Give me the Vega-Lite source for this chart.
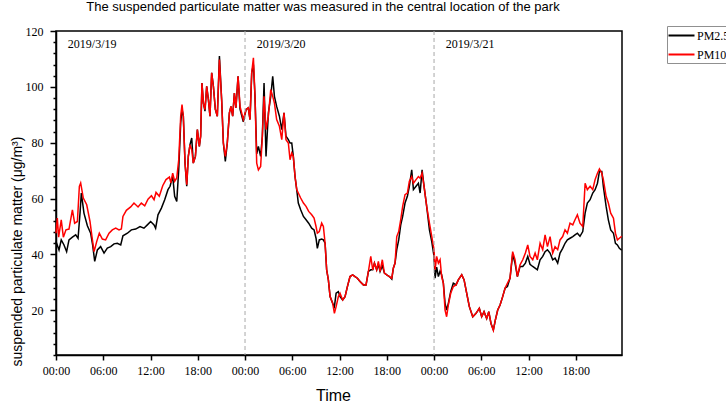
{
  "$schema": "https://vega.github.io/schema/vega-lite/v6.json",
  "autosize": {"type": "none"},
  "padding": {"left": 56, "top": 31, "right": 104, "bottom": 48},
  "width": 566,
  "height": 324,
  "background": "white",
  "title": {
    "text": "The suspended particulate matter was measured in the central location of the park",
    "font": "Liberation Sans",
    "fontSize": 13,
    "fontWeight": "normal",
    "color": "#000",
    "offset": 11,
    "dx": -16
  },
  "config": {
    "view": {"stroke": "#000", "strokeWidth": 1.5},
    "axis": {
      "grid": false,
      "ticks": true,
      "tickColor": "#000",
      "tickWidth": 1.5,
      "labelOverlap": false,
      "labelFlush": false
    }
  },
  "datasets": {
    "pm25": [
      {"t": "2019-03-19T00:00", "v": 44.6}, {"t": "2019-03-19T00:23", "v": 41.6}, {"t": "2019-03-19T00:40", "v": 45.2},
      {"t": "2019-03-19T01:01", "v": 43.4}, {"t": "2019-03-19T01:21", "v": 41.0}, {"t": "2019-03-19T01:39", "v": 45.2},
      {"t": "2019-03-19T02:05", "v": 46.2}, {"t": "2019-03-19T02:30", "v": 47.0}, {"t": "2019-03-19T02:48", "v": 45.8},
      {"t": "2019-03-19T03:03", "v": 54.8}, {"t": "2019-03-19T03:13", "v": 62.0}, {"t": "2019-03-19T03:33", "v": 54.8},
      {"t": "2019-03-19T03:59", "v": 50.3}, {"t": "2019-03-19T04:24", "v": 47.6}, {"t": "2019-03-19T04:39", "v": 43.4},
      {"t": "2019-03-19T04:55", "v": 37.5}, {"t": "2019-03-19T05:15", "v": 41.6}, {"t": "2019-03-19T05:40", "v": 42.8},
      {"t": "2019-03-19T06:06", "v": 40.5}, {"t": "2019-03-19T06:31", "v": 42.3}, {"t": "2019-03-19T06:57", "v": 42.8},
      {"t": "2019-03-19T07:22", "v": 43.8}, {"t": "2019-03-19T07:47", "v": 44.0}, {"t": "2019-03-19T08:13", "v": 43.4},
      {"t": "2019-03-19T08:30", "v": 46.7}, {"t": "2019-03-19T09:04", "v": 47.6}, {"t": "2019-03-19T09:34", "v": 48.8},
      {"t": "2019-03-19T10:07", "v": 49.1}, {"t": "2019-03-19T10:40", "v": 50.0}, {"t": "2019-03-19T11:10", "v": 49.4},
      {"t": "2019-03-19T11:36", "v": 50.6}, {"t": "2019-03-19T12:01", "v": 51.8}, {"t": "2019-03-19T12:27", "v": 50.6},
      {"t": "2019-03-19T12:39", "v": 49.4}, {"t": "2019-03-19T12:57", "v": 54.2}, {"t": "2019-03-19T13:23", "v": 56.6},
      {"t": "2019-03-19T13:48", "v": 59.6}, {"t": "2019-03-19T14:13", "v": 63.2}, {"t": "2019-03-19T14:29", "v": 64.4},
      {"t": "2019-03-19T14:49", "v": 68.0}, {"t": "2019-03-19T15:04", "v": 60.8}, {"t": "2019-03-19T15:20", "v": 59.0},
      {"t": "2019-03-19T15:35", "v": 70.3}, {"t": "2019-03-19T15:50", "v": 87.1}, {"t": "2019-03-19T16:00", "v": 91.9},
      {"t": "2019-03-19T16:10", "v": 89.5}, {"t": "2019-03-19T16:23", "v": 72.7}, {"t": "2019-03-19T16:36", "v": 64.4},
      {"t": "2019-03-19T16:48", "v": 75.1}, {"t": "2019-03-19T17:01", "v": 79.3}, {"t": "2019-03-19T17:14", "v": 81.7},
      {"t": "2019-03-19T17:26", "v": 72.7}, {"t": "2019-03-19T17:42", "v": 75.1}, {"t": "2019-03-19T17:57", "v": 84.7},
      {"t": "2019-03-19T18:12", "v": 78.7}, {"t": "2019-03-19T18:22", "v": 82.3}, {"t": "2019-03-19T18:32", "v": 101.4},
      {"t": "2019-03-19T18:43", "v": 94.2}, {"t": "2019-03-19T18:55", "v": 91.3}, {"t": "2019-03-19T19:08", "v": 100.2},
      {"t": "2019-03-19T19:21", "v": 95.4}, {"t": "2019-03-19T19:33", "v": 89.5}, {"t": "2019-03-19T19:46", "v": 105.0},
      {"t": "2019-03-19T19:59", "v": 100.2}, {"t": "2019-03-19T20:14", "v": 91.9}, {"t": "2019-03-19T20:29", "v": 89.5},
      {"t": "2019-03-19T20:45", "v": 111.0}, {"t": "2019-03-19T21:02", "v": 95.4}, {"t": "2019-03-19T21:15", "v": 79.9},
      {"t": "2019-03-19T21:30", "v": 73.3}, {"t": "2019-03-19T21:45", "v": 79.9}, {"t": "2019-03-19T22:01", "v": 90.7},
      {"t": "2019-03-19T22:13", "v": 93.0}, {"t": "2019-03-19T22:26", "v": 89.5}, {"t": "2019-03-19T22:39", "v": 97.8},
      {"t": "2019-03-19T22:51", "v": 92.5}, {"t": "2019-03-19T23:07", "v": 103.8}, {"t": "2019-03-19T23:22", "v": 92.0},
      {"t": "2019-03-19T23:47", "v": 87.5},
      {"t": "2019-03-20T00:08", "v": 91.9}, {"t": "2019-03-20T00:25", "v": 92.5}, {"t": "2019-03-20T00:38", "v": 88.3},
      {"t": "2019-03-20T00:51", "v": 105.0}, {"t": "2019-03-20T01:04", "v": 108.0}, {"t": "2019-03-20T01:16", "v": 96.6},
      {"t": "2019-03-20T01:29", "v": 76.0}, {"t": "2019-03-20T01:42", "v": 78.7}, {"t": "2019-03-20T01:59", "v": 75.1},
      {"t": "2019-03-20T02:12", "v": 82.3}, {"t": "2019-03-20T02:25", "v": 101.4}, {"t": "2019-03-20T02:40", "v": 75.1},
      {"t": "2019-03-20T02:58", "v": 90.7}, {"t": "2019-03-20T03:16", "v": 96.6}, {"t": "2019-03-20T03:31", "v": 103.8},
      {"t": "2019-03-20T03:44", "v": 96.6}, {"t": "2019-03-20T04:01", "v": 93.0}, {"t": "2019-03-20T04:22", "v": 89.5},
      {"t": "2019-03-20T04:40", "v": 84.7}, {"t": "2019-03-20T04:57", "v": 90.7}, {"t": "2019-03-20T05:12", "v": 82.3},
      {"t": "2019-03-20T05:30", "v": 81.1}, {"t": "2019-03-20T05:43", "v": 79.9}, {"t": "2019-03-20T05:56", "v": 79.9},
      {"t": "2019-03-20T06:08", "v": 75.1}, {"t": "2019-03-20T06:21", "v": 67.9}, {"t": "2019-03-20T06:34", "v": 63.2},
      {"t": "2019-03-20T06:46", "v": 58.4}, {"t": "2019-03-20T07:04", "v": 56.0}, {"t": "2019-03-20T07:25", "v": 53.6},
      {"t": "2019-03-20T07:45", "v": 52.4}, {"t": "2019-03-20T08:05", "v": 51.2}, {"t": "2019-03-20T08:28", "v": 49.4},
      {"t": "2019-03-20T08:46", "v": 48.8}, {"t": "2019-03-20T09:01", "v": 45.8}, {"t": "2019-03-20T09:11", "v": 42.2},
      {"t": "2019-03-20T09:26", "v": 45.2}, {"t": "2019-03-20T09:44", "v": 45.5}, {"t": "2019-03-20T09:57", "v": 45.2},
      {"t": "2019-03-20T10:10", "v": 44.0}, {"t": "2019-03-20T10:22", "v": 34.5}, {"t": "2019-03-20T10:35", "v": 30.9},
      {"t": "2019-03-20T10:48", "v": 24.9}, {"t": "2019-03-20T11:08", "v": 22.5}, {"t": "2019-03-20T11:21", "v": 21.3},
      {"t": "2019-03-20T11:34", "v": 26.1}, {"t": "2019-03-20T11:51", "v": 26.7}, {"t": "2019-03-20T12:04", "v": 24.9},
      {"t": "2019-03-20T12:24", "v": 23.7}, {"t": "2019-03-20T12:42", "v": 24.9}, {"t": "2019-03-20T13:00", "v": 28.5},
      {"t": "2019-03-20T13:20", "v": 32.1}, {"t": "2019-03-20T13:40", "v": 32.7}, {"t": "2019-03-20T13:58", "v": 32.1},
      {"t": "2019-03-20T14:16", "v": 31.5}, {"t": "2019-03-20T14:36", "v": 30.3}, {"t": "2019-03-20T15:02", "v": 29.1},
      {"t": "2019-03-20T15:22", "v": 29.1}, {"t": "2019-03-20T15:40", "v": 33.9}, {"t": "2019-03-20T15:58", "v": 34.5},
      {"t": "2019-03-20T16:13", "v": 34.5}, {"t": "2019-03-20T16:26", "v": 36.9}, {"t": "2019-03-20T16:43", "v": 34.5},
      {"t": "2019-03-20T16:56", "v": 36.5}, {"t": "2019-03-20T17:09", "v": 33.9}, {"t": "2019-03-20T17:26", "v": 36.0},
      {"t": "2019-03-20T17:42", "v": 33.3}, {"t": "2019-03-20T18:00", "v": 32.7}, {"t": "2019-03-20T18:20", "v": 32.1},
      {"t": "2019-03-20T18:38", "v": 31.2}, {"t": "2019-03-20T18:50", "v": 35.1}, {"t": "2019-03-20T19:03", "v": 36.9},
      {"t": "2019-03-20T19:16", "v": 41.7}, {"t": "2019-03-20T19:31", "v": 45.2}, {"t": "2019-03-20T19:46", "v": 50.5},
      {"t": "2019-03-20T20:01", "v": 53.6}, {"t": "2019-03-20T20:19", "v": 58.4}, {"t": "2019-03-20T20:37", "v": 60.8},
      {"t": "2019-03-20T20:52", "v": 64.4}, {"t": "2019-03-20T21:10", "v": 70.3}, {"t": "2019-03-20T21:23", "v": 63.2},
      {"t": "2019-03-20T21:43", "v": 64.4}, {"t": "2019-03-20T22:01", "v": 65.5}, {"t": "2019-03-20T22:14", "v": 62.0},
      {"t": "2019-03-20T22:29", "v": 70.3}, {"t": "2019-03-20T22:44", "v": 64.4}, {"t": "2019-03-20T23:04", "v": 57.2},
      {"t": "2019-03-20T23:25", "v": 48.8}, {"t": "2019-03-20T23:43", "v": 44.5},
      {"t": "2019-03-21T00:00", "v": 39.3}, {"t": "2019-03-21T00:08", "v": 31.5}, {"t": "2019-03-21T00:20", "v": 35.5},
      {"t": "2019-03-21T00:33", "v": 32.1}, {"t": "2019-03-21T00:46", "v": 34.0}, {"t": "2019-03-21T00:58", "v": 32.7},
      {"t": "2019-03-21T01:11", "v": 29.7}, {"t": "2019-03-21T01:24", "v": 22.5}, {"t": "2019-03-21T01:36", "v": 20.1},
      {"t": "2019-03-21T01:49", "v": 22.5}, {"t": "2019-03-21T02:07", "v": 26.7}, {"t": "2019-03-21T02:27", "v": 29.7},
      {"t": "2019-03-21T02:48", "v": 29.1}, {"t": "2019-03-21T03:05", "v": 30.9}, {"t": "2019-03-21T03:31", "v": 32.7},
      {"t": "2019-03-21T03:49", "v": 30.9}, {"t": "2019-03-21T04:09", "v": 26.1}, {"t": "2019-03-21T04:29", "v": 21.3},
      {"t": "2019-03-21T04:55", "v": 17.7}, {"t": "2019-03-21T05:20", "v": 18.9}, {"t": "2019-03-21T05:45", "v": 20.7},
      {"t": "2019-03-21T06:03", "v": 17.7}, {"t": "2019-03-21T06:21", "v": 19.5}, {"t": "2019-03-21T06:41", "v": 17.1},
      {"t": "2019-03-21T06:57", "v": 19.5}, {"t": "2019-03-21T07:14", "v": 15.3}, {"t": "2019-03-21T07:32", "v": 13.0},
      {"t": "2019-03-21T07:47", "v": 16.5}, {"t": "2019-03-21T08:05", "v": 20.1}, {"t": "2019-03-21T08:23", "v": 21.9},
      {"t": "2019-03-21T08:43", "v": 24.9}, {"t": "2019-03-21T09:01", "v": 27.9}, {"t": "2019-03-21T09:19", "v": 28.5},
      {"t": "2019-03-21T09:39", "v": 31.5}, {"t": "2019-03-21T09:59", "v": 40.0}, {"t": "2019-03-21T10:17", "v": 36.9},
      {"t": "2019-03-21T10:35", "v": 32.1}, {"t": "2019-03-21T10:55", "v": 35.7}, {"t": "2019-03-21T11:16", "v": 35.7},
      {"t": "2019-03-21T11:36", "v": 36.9}, {"t": "2019-03-21T11:54", "v": 39.3}, {"t": "2019-03-21T12:11", "v": 36.5},
      {"t": "2019-03-21T12:32", "v": 35.7}, {"t": "2019-03-21T12:50", "v": 35.1}, {"t": "2019-03-21T13:07", "v": 34.5},
      {"t": "2019-03-21T13:28", "v": 38.1}, {"t": "2019-03-21T13:48", "v": 39.3}, {"t": "2019-03-21T14:06", "v": 41.0},
      {"t": "2019-03-21T14:24", "v": 41.7}, {"t": "2019-03-21T14:44", "v": 40.5}, {"t": "2019-03-21T15:04", "v": 38.1},
      {"t": "2019-03-21T15:22", "v": 38.7}, {"t": "2019-03-21T15:42", "v": 36.9}, {"t": "2019-03-21T16:00", "v": 40.5},
      {"t": "2019-03-21T16:20", "v": 42.2}, {"t": "2019-03-21T16:38", "v": 44.0}, {"t": "2019-03-21T16:56", "v": 45.2},
      {"t": "2019-03-21T17:16", "v": 45.8}, {"t": "2019-03-21T17:37", "v": 46.4}, {"t": "2019-03-21T17:54", "v": 47.0},
      {"t": "2019-03-21T18:12", "v": 47.6}, {"t": "2019-03-21T18:32", "v": 46.5}, {"t": "2019-03-21T18:53", "v": 48.2},
      {"t": "2019-03-21T19:11", "v": 54.8}, {"t": "2019-03-21T19:28", "v": 58.4}, {"t": "2019-03-21T19:49", "v": 59.6},
      {"t": "2019-03-21T20:09", "v": 62.0}, {"t": "2019-03-21T20:27", "v": 63.2}, {"t": "2019-03-21T20:45", "v": 65.5},
      {"t": "2019-03-21T21:00", "v": 69.7}, {"t": "2019-03-21T21:18", "v": 69.7}, {"t": "2019-03-21T21:30", "v": 64.4},
      {"t": "2019-03-21T21:51", "v": 57.2}, {"t": "2019-03-21T22:08", "v": 52.4}, {"t": "2019-03-21T22:26", "v": 48.8},
      {"t": "2019-03-21T22:47", "v": 47.6}, {"t": "2019-03-21T23:02", "v": 44.0}, {"t": "2019-03-21T23:17", "v": 43.4},
      {"t": "2019-03-21T23:32", "v": 42.2}, {"t": "2019-03-21T23:50", "v": 41.5}
    ],
    "pm10": [
      {"t": "2019-03-19T00:00", "v": 47.6}, {"t": "2019-03-19T00:10", "v": 53.0}, {"t": "2019-03-19T00:20", "v": 46.2},
      {"t": "2019-03-19T00:40", "v": 52.4}, {"t": "2019-03-19T00:56", "v": 46.2}, {"t": "2019-03-19T01:16", "v": 48.8},
      {"t": "2019-03-19T01:39", "v": 49.1}, {"t": "2019-03-19T02:05", "v": 56.0}, {"t": "2019-03-19T02:22", "v": 51.2},
      {"t": "2019-03-19T02:43", "v": 51.8}, {"t": "2019-03-19T02:58", "v": 64.4}, {"t": "2019-03-19T03:08", "v": 65.6},
      {"t": "2019-03-19T03:28", "v": 60.2}, {"t": "2019-03-19T03:54", "v": 57.8}, {"t": "2019-03-19T04:19", "v": 51.8},
      {"t": "2019-03-19T04:34", "v": 46.4}, {"t": "2019-03-19T04:50", "v": 41.0}, {"t": "2019-03-19T05:10", "v": 44.6},
      {"t": "2019-03-19T05:30", "v": 47.6}, {"t": "2019-03-19T05:53", "v": 45.5}, {"t": "2019-03-19T06:18", "v": 45.2},
      {"t": "2019-03-19T06:44", "v": 47.6}, {"t": "2019-03-19T07:09", "v": 48.8}, {"t": "2019-03-19T07:35", "v": 49.4},
      {"t": "2019-03-19T08:00", "v": 48.8}, {"t": "2019-03-19T08:18", "v": 49.1}, {"t": "2019-03-19T08:30", "v": 53.6},
      {"t": "2019-03-19T08:56", "v": 55.8}, {"t": "2019-03-19T09:29", "v": 57.0}, {"t": "2019-03-19T09:54", "v": 58.4},
      {"t": "2019-03-19T10:25", "v": 57.0}, {"t": "2019-03-19T10:50", "v": 58.4}, {"t": "2019-03-19T11:16", "v": 57.4},
      {"t": "2019-03-19T11:41", "v": 59.8}, {"t": "2019-03-19T12:07", "v": 61.0}, {"t": "2019-03-19T12:27", "v": 59.6},
      {"t": "2019-03-19T12:42", "v": 62.2}, {"t": "2019-03-19T13:07", "v": 60.8}, {"t": "2019-03-19T13:33", "v": 64.6},
      {"t": "2019-03-19T13:58", "v": 66.8}, {"t": "2019-03-19T14:24", "v": 67.7}, {"t": "2019-03-19T14:35", "v": 65.6},
      {"t": "2019-03-19T14:49", "v": 69.1}, {"t": "2019-03-19T15:04", "v": 66.2}, {"t": "2019-03-19T15:20", "v": 67.4},
      {"t": "2019-03-19T15:35", "v": 73.9}, {"t": "2019-03-19T15:50", "v": 89.5}, {"t": "2019-03-19T16:00", "v": 93.7},
      {"t": "2019-03-19T16:10", "v": 89.5}, {"t": "2019-03-19T16:23", "v": 72.7}, {"t": "2019-03-19T16:36", "v": 65.0},
      {"t": "2019-03-19T16:48", "v": 75.1}, {"t": "2019-03-19T17:01", "v": 79.3}, {"t": "2019-03-19T17:14", "v": 77.5},
      {"t": "2019-03-19T17:26", "v": 72.7}, {"t": "2019-03-19T17:42", "v": 75.1}, {"t": "2019-03-19T17:57", "v": 84.7},
      {"t": "2019-03-19T18:12", "v": 78.7}, {"t": "2019-03-19T18:22", "v": 82.3}, {"t": "2019-03-19T18:32", "v": 101.4},
      {"t": "2019-03-19T18:43", "v": 94.2}, {"t": "2019-03-19T18:55", "v": 91.9}, {"t": "2019-03-19T19:08", "v": 100.2},
      {"t": "2019-03-19T19:21", "v": 95.4}, {"t": "2019-03-19T19:33", "v": 89.5}, {"t": "2019-03-19T19:46", "v": 105.0},
      {"t": "2019-03-19T19:59", "v": 100.2}, {"t": "2019-03-19T20:14", "v": 91.9}, {"t": "2019-03-19T20:29", "v": 89.5},
      {"t": "2019-03-19T20:45", "v": 109.8}, {"t": "2019-03-19T21:02", "v": 95.4}, {"t": "2019-03-19T21:15", "v": 79.9},
      {"t": "2019-03-19T21:30", "v": 75.1}, {"t": "2019-03-19T21:45", "v": 79.9}, {"t": "2019-03-19T22:01", "v": 90.7},
      {"t": "2019-03-19T22:13", "v": 93.0}, {"t": "2019-03-19T22:26", "v": 89.5}, {"t": "2019-03-19T22:39", "v": 97.8},
      {"t": "2019-03-19T22:51", "v": 92.5}, {"t": "2019-03-19T23:07", "v": 103.8}, {"t": "2019-03-19T23:22", "v": 93.0},
      {"t": "2019-03-19T23:47", "v": 88.3},
      {"t": "2019-03-20T00:08", "v": 91.9}, {"t": "2019-03-20T00:25", "v": 92.5}, {"t": "2019-03-20T00:38", "v": 88.3},
      {"t": "2019-03-20T00:51", "v": 105.0}, {"t": "2019-03-20T01:04", "v": 110.4}, {"t": "2019-03-20T01:16", "v": 96.6},
      {"t": "2019-03-20T01:29", "v": 72.7}, {"t": "2019-03-20T01:42", "v": 70.3}, {"t": "2019-03-20T01:59", "v": 71.5},
      {"t": "2019-03-20T02:12", "v": 82.3}, {"t": "2019-03-20T02:25", "v": 96.6}, {"t": "2019-03-20T02:40", "v": 84.7},
      {"t": "2019-03-20T02:58", "v": 89.5}, {"t": "2019-03-20T03:16", "v": 99.0}, {"t": "2019-03-20T03:31", "v": 96.6},
      {"t": "2019-03-20T03:44", "v": 94.2}, {"t": "2019-03-20T04:01", "v": 88.3}, {"t": "2019-03-20T04:22", "v": 85.9},
      {"t": "2019-03-20T04:40", "v": 81.1}, {"t": "2019-03-20T04:57", "v": 90.7}, {"t": "2019-03-20T05:12", "v": 81.1},
      {"t": "2019-03-20T05:30", "v": 79.9}, {"t": "2019-03-20T05:43", "v": 73.9}, {"t": "2019-03-20T05:56", "v": 76.3},
      {"t": "2019-03-20T06:08", "v": 75.1}, {"t": "2019-03-20T06:21", "v": 67.9}, {"t": "2019-03-20T06:34", "v": 63.2},
      {"t": "2019-03-20T06:46", "v": 62.0}, {"t": "2019-03-20T07:04", "v": 60.2}, {"t": "2019-03-20T07:25", "v": 58.4},
      {"t": "2019-03-20T07:45", "v": 57.2}, {"t": "2019-03-20T08:05", "v": 55.4}, {"t": "2019-03-20T08:28", "v": 54.2},
      {"t": "2019-03-20T08:46", "v": 53.0}, {"t": "2019-03-20T09:01", "v": 50.0}, {"t": "2019-03-20T09:11", "v": 47.6},
      {"t": "2019-03-20T09:26", "v": 48.2}, {"t": "2019-03-20T09:44", "v": 51.2}, {"t": "2019-03-20T09:57", "v": 50.0},
      {"t": "2019-03-20T10:10", "v": 44.0}, {"t": "2019-03-20T10:22", "v": 34.5}, {"t": "2019-03-20T10:35", "v": 30.9},
      {"t": "2019-03-20T10:48", "v": 24.9}, {"t": "2019-03-20T11:08", "v": 22.5}, {"t": "2019-03-20T11:21", "v": 18.9},
      {"t": "2019-03-20T11:34", "v": 21.3}, {"t": "2019-03-20T11:51", "v": 24.9}, {"t": "2019-03-20T12:04", "v": 26.1},
      {"t": "2019-03-20T12:24", "v": 23.7}, {"t": "2019-03-20T12:42", "v": 24.9}, {"t": "2019-03-20T13:00", "v": 28.5},
      {"t": "2019-03-20T13:20", "v": 32.1}, {"t": "2019-03-20T13:40", "v": 32.7}, {"t": "2019-03-20T13:58", "v": 32.1},
      {"t": "2019-03-20T14:16", "v": 31.5}, {"t": "2019-03-20T14:36", "v": 30.3}, {"t": "2019-03-20T15:02", "v": 29.1},
      {"t": "2019-03-20T15:22", "v": 29.1}, {"t": "2019-03-20T15:40", "v": 33.9}, {"t": "2019-03-20T15:58", "v": 39.3},
      {"t": "2019-03-20T16:13", "v": 34.5}, {"t": "2019-03-20T16:26", "v": 36.9}, {"t": "2019-03-20T16:43", "v": 34.5},
      {"t": "2019-03-20T16:56", "v": 37.5}, {"t": "2019-03-20T17:09", "v": 33.9}, {"t": "2019-03-20T17:26", "v": 38.1},
      {"t": "2019-03-20T17:42", "v": 33.3}, {"t": "2019-03-20T18:00", "v": 32.7}, {"t": "2019-03-20T18:20", "v": 32.1},
      {"t": "2019-03-20T18:38", "v": 31.5}, {"t": "2019-03-20T18:50", "v": 35.1}, {"t": "2019-03-20T19:03", "v": 36.9},
      {"t": "2019-03-20T19:16", "v": 46.4}, {"t": "2019-03-20T19:31", "v": 48.2}, {"t": "2019-03-20T19:46", "v": 52.4},
      {"t": "2019-03-20T20:01", "v": 57.2}, {"t": "2019-03-20T20:19", "v": 61.4}, {"t": "2019-03-20T20:37", "v": 62.0},
      {"t": "2019-03-20T20:52", "v": 66.2}, {"t": "2019-03-20T21:10", "v": 67.9}, {"t": "2019-03-20T21:23", "v": 65.5},
      {"t": "2019-03-20T21:43", "v": 66.8}, {"t": "2019-03-20T22:01", "v": 67.9}, {"t": "2019-03-20T22:14", "v": 67.3},
      {"t": "2019-03-20T22:29", "v": 69.1}, {"t": "2019-03-20T22:44", "v": 64.4}, {"t": "2019-03-20T23:04", "v": 57.2},
      {"t": "2019-03-20T23:25", "v": 51.2}, {"t": "2019-03-20T23:43", "v": 46.4},
      {"t": "2019-03-21T00:00", "v": 41.7}, {"t": "2019-03-21T00:08", "v": 34.5}, {"t": "2019-03-21T00:20", "v": 39.3},
      {"t": "2019-03-21T00:33", "v": 36.9}, {"t": "2019-03-21T00:46", "v": 38.1}, {"t": "2019-03-21T00:58", "v": 32.1},
      {"t": "2019-03-21T01:11", "v": 29.7}, {"t": "2019-03-21T01:24", "v": 20.1}, {"t": "2019-03-21T01:36", "v": 17.7},
      {"t": "2019-03-21T01:49", "v": 21.9}, {"t": "2019-03-21T02:07", "v": 26.1}, {"t": "2019-03-21T02:27", "v": 28.5},
      {"t": "2019-03-21T02:48", "v": 29.1}, {"t": "2019-03-21T03:05", "v": 30.9}, {"t": "2019-03-21T03:31", "v": 32.7},
      {"t": "2019-03-21T03:49", "v": 30.9}, {"t": "2019-03-21T04:09", "v": 26.1}, {"t": "2019-03-21T04:29", "v": 21.3},
      {"t": "2019-03-21T04:55", "v": 17.7}, {"t": "2019-03-21T05:20", "v": 18.9}, {"t": "2019-03-21T05:45", "v": 20.7},
      {"t": "2019-03-21T06:03", "v": 17.7}, {"t": "2019-03-21T06:21", "v": 19.5}, {"t": "2019-03-21T06:41", "v": 17.1},
      {"t": "2019-03-21T06:57", "v": 19.5}, {"t": "2019-03-21T07:14", "v": 15.3}, {"t": "2019-03-21T07:32", "v": 12.8},
      {"t": "2019-03-21T07:47", "v": 16.5}, {"t": "2019-03-21T08:05", "v": 20.1}, {"t": "2019-03-21T08:23", "v": 21.9},
      {"t": "2019-03-21T08:43", "v": 24.9}, {"t": "2019-03-21T09:01", "v": 27.9}, {"t": "2019-03-21T09:19", "v": 29.7},
      {"t": "2019-03-21T09:39", "v": 31.5}, {"t": "2019-03-21T09:59", "v": 41.0}, {"t": "2019-03-21T10:17", "v": 38.1},
      {"t": "2019-03-21T10:35", "v": 32.1}, {"t": "2019-03-21T10:55", "v": 36.3}, {"t": "2019-03-21T11:16", "v": 38.1},
      {"t": "2019-03-21T11:36", "v": 40.5}, {"t": "2019-03-21T11:54", "v": 43.4}, {"t": "2019-03-21T12:11", "v": 39.3},
      {"t": "2019-03-21T12:32", "v": 38.1}, {"t": "2019-03-21T12:50", "v": 40.5}, {"t": "2019-03-21T13:07", "v": 38.1},
      {"t": "2019-03-21T13:28", "v": 44.0}, {"t": "2019-03-21T13:48", "v": 41.7}, {"t": "2019-03-21T14:06", "v": 47.0},
      {"t": "2019-03-21T14:24", "v": 42.8}, {"t": "2019-03-21T14:44", "v": 46.4}, {"t": "2019-03-21T15:04", "v": 40.5},
      {"t": "2019-03-21T15:22", "v": 42.8}, {"t": "2019-03-21T15:42", "v": 41.7}, {"t": "2019-03-21T16:00", "v": 45.2},
      {"t": "2019-03-21T16:20", "v": 46.4}, {"t": "2019-03-21T16:38", "v": 48.8}, {"t": "2019-03-21T16:56", "v": 47.6},
      {"t": "2019-03-21T17:16", "v": 51.2}, {"t": "2019-03-21T17:37", "v": 50.6}, {"t": "2019-03-21T17:54", "v": 52.4},
      {"t": "2019-03-21T18:12", "v": 54.2}, {"t": "2019-03-21T18:32", "v": 51.2}, {"t": "2019-03-21T18:53", "v": 50.0},
      {"t": "2019-03-21T19:11", "v": 65.5}, {"t": "2019-03-21T19:28", "v": 63.2}, {"t": "2019-03-21T19:49", "v": 64.4},
      {"t": "2019-03-21T20:09", "v": 63.2}, {"t": "2019-03-21T20:27", "v": 66.8}, {"t": "2019-03-21T20:45", "v": 69.1},
      {"t": "2019-03-21T21:00", "v": 70.6}, {"t": "2019-03-21T21:18", "v": 69.1}, {"t": "2019-03-21T21:30", "v": 66.8},
      {"t": "2019-03-21T21:51", "v": 60.8}, {"t": "2019-03-21T22:08", "v": 58.4}, {"t": "2019-03-21T22:26", "v": 54.8},
      {"t": "2019-03-21T22:47", "v": 53.0}, {"t": "2019-03-21T23:02", "v": 47.6}, {"t": "2019-03-21T23:17", "v": 45.2},
      {"t": "2019-03-21T23:32", "v": 45.8}, {"t": "2019-03-21T23:50", "v": 46.5}
    ],
    "days": [
      {"t": "2019-03-19T01:30", "v": 115.5, "label": "2019/3/19"},
      {"t": "2019-03-20T01:30", "v": 115.5, "label": "2019/3/20"},
      {"t": "2019-03-21T01:30", "v": 115.5, "label": "2019/3/21"}
    ],
    "midnights": [
      {"t": "2019-03-20T00:00"},
      {"t": "2019-03-21T00:00"}
    ]
  },
  "layer": [
    {
      "data": {"name": "pm25"},
      "mark": {"type": "line", "strokeWidth": 1.5},
      "encoding": {
        "x": {
          "field": "t",
          "type": "temporal",
          "scale": {
            "domain": [
              {"year": 2019, "month": 3, "date": 19, "hours": 0, "minutes": 0},
              {"year": 2019, "month": 3, "date": 21, "hours": 23, "minutes": 52}
            ]
          },
          "axis": {
            "values": [
              {"year": 2019, "month": 3, "date": 19, "hours": 0},
              {"year": 2019, "month": 3, "date": 19, "hours": 6},
              {"year": 2019, "month": 3, "date": 19, "hours": 12},
              {"year": 2019, "month": 3, "date": 19, "hours": 18},
              {"year": 2019, "month": 3, "date": 20, "hours": 0},
              {"year": 2019, "month": 3, "date": 20, "hours": 6},
              {"year": 2019, "month": 3, "date": 20, "hours": 12},
              {"year": 2019, "month": 3, "date": 20, "hours": 18},
              {"year": 2019, "month": 3, "date": 21, "hours": 0},
              {"year": 2019, "month": 3, "date": 21, "hours": 6},
              {"year": 2019, "month": 3, "date": 21, "hours": 12},
              {"year": 2019, "month": 3, "date": 21, "hours": 18}
            ],
            "tickCount": 100,
            "format": "%H:%M",
            "labelFont": "Liberation Serif",
            "labelFontSize": 12,
            "labelColor": "#000",
            "labelPadding": 5,
            "labelFlush": false,
            "labelOverlap": false,
            "tickColor": "#000",
            "tickSize": 5,
            "tickWidth": 1.5,
            "domainColor": "#000",
            "domainWidth": 1.5,
            "title": "Time",
            "titleFont": "Liberation Sans",
            "titleFontSize": 16,
            "titleFontWeight": "normal",
            "titleColor": "#000",
            "titleX": 277,
            "titleY": 40,
            "titleBaseline": "middle"
          }
        },
        "y": {
          "field": "v",
          "type": "quantitative",
          "scale": {"domain": [4, 120], "nice": false, "zero": false},
          "axis": {
            "values": [4, 8, 12, 16, 20, 24, 28, 32, 36, 40, 44, 48, 52, 56, 60, 64, 68, 72, 76, 80, 84, 88, 92, 96, 100, 104, 108, 112, 116, 120],
            "tickCount": 100,
            "labelExpr": "datum.value % 20 === 0 ? datum.label : ''",
            "tickSize": {"condition": {"test": "datum.value % 20 === 0", "value": 6}, "value": 3},
            "tickWidth": 1.5,
            "tickColor": "#000",
            "labelFont": "Liberation Serif",
            "labelFontSize": 12,
            "labelColor": "#000",
            "labelPadding": 7,
            "labelFlush": false,
            "labelOverlap": false,
            "domainColor": "#000",
            "domainWidth": 1.5,
            "title": "suspended particulate matter (μg/m³)",
            "titleFont": "Liberation Sans",
            "titleFontSize": 14,
            "titleFontWeight": "normal",
            "titleColor": "#000",
            "titleX": -39,
            "titleY": 220,
            "titleAlign": "center",
            "titleBaseline": "middle"
          }
        },
        "color": {
          "datum": "PM2.5",
          "type": "nominal",
          "scale": {"domain": ["PM2.5", "PM10"], "range": ["#000000", "#ff0000"]},
          "legend": {
            "orient": "none",
            "legendX": 611,
            "legendY": -5,
            "title": null,
            "symbolType": "M-2,0H2",
            "symbolSize": 169,
            "symbolStrokeWidth": 2,
            "symbolOffset": 5,
            "labelOffset": 8,
            "labelFont": "Liberation Serif",
            "labelFontSize": 12,
            "labelColor": "#000",
            "strokeColor": "#909090",
            "fillColor": "#ffffff",
            "padding": 2,
            "rowPadding": 5
          }
        }
      }
    },
    {
      "data": {"name": "pm10"},
      "mark": {"type": "line", "strokeWidth": 1.5},
      "encoding": {
        "x": {"field": "t", "type": "temporal"},
        "y": {"field": "v", "type": "quantitative"},
        "color": {"datum": "PM10", "type": "nominal"}
      }
    },
    {
      "data": {"name": "midnights"},
      "mark": {"type": "rule", "color": "#a8a8a8", "strokeWidth": 1, "strokeDash": [4, 3]},
      "encoding": {
        "x": {"field": "t", "type": "temporal"}
      }
    },
    {
      "data": {"name": "days"},
      "mark": {"type": "text", "align": "left", "baseline": "middle", "font": "Liberation Serif", "fontSize": 12, "color": "#000"},
      "encoding": {
        "x": {"field": "t", "type": "temporal"},
        "y": {"field": "v", "type": "quantitative"},
        "text": {"field": "label", "type": "nominal"}
      }
    }
  ]
}
